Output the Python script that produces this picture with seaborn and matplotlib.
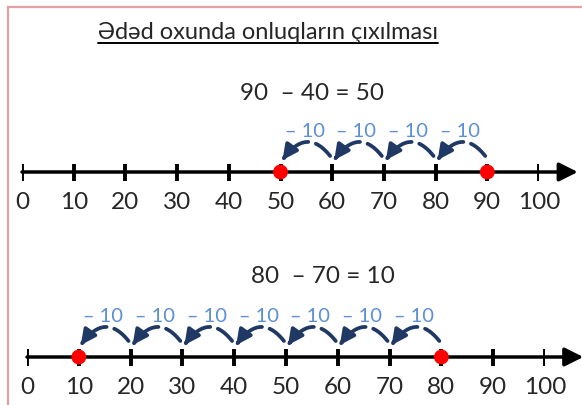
import matplotlib.pyplot as plt
import seaborn as sns
import pandas as pd
from matplotlib.patches import FancyArrowPatch, Rectangle
from matplotlib.lines import Line2D
from matplotlib.path import Path

# chart data
title = 'Ədəd oxunda onluqların çıxılması'
tick_values = [0, 10, 20, 30, 40, 50, 60, 70, 80, 90, 100]
hop_label = '– 10'

top_equation = '90  – 40 = 50'
top_points = [50, 90]
top_hops = [90, 80, 70, 60]          # each hop goes v -> v-10

bottom_equation = '80  – 70 = 10'
bottom_points = [10, 80]
bottom_hops = [80, 70, 60, 50, 40, 30, 20]

# colours
arc_color = '#1f3864'
label_color = '#5b8fd6'
dot_color = '#ff0000'
frame_color = '#e3a0a0'

sns.set_style('white')
plt.rcParams['font.family'] = ['Lato', 'DejaVu Sans']

W, H = 582, 406
fig = plt.figure(figsize=(W / 100, H / 100), dpi=100)


def bez(p0, c, p2, t):
    return ((1 - t) ** 2 * p0[0] + 2 * (1 - t) * t * c[0] + t ** 2 * p2[0],
            (1 - t) ** 2 * p0[1] + 2 * (1 - t) * t * c[1] + t ** 2 * p2[1])


def arc_piece(ax, v, t0, t1, head):
    p0 = (v - 0.4, 16)
    p2 = (v - 9.6, 12)
    c = (v - 5, 46)
    n = 20
    pts = [bez(p0, c, p2, t0 + (t1 - t0) * i / n) for i in range(n + 1)]
    path = Path(pts)
    style = '-|>' if head else '-'
    patch = FancyArrowPatch(path=path, arrowstyle=style, mutation_scale=22,
                            color=arc_color, lw=2.7, transform=ax.transData,
                            clip_on=False, zorder=3)
    ax.add_patch(patch)


def number_line(px0, px100, line_y, points, hops, tip):
    # axes placed so that 0 and 100 land on the given pixel columns
    left = px0 / W
    width = (px100 - px0) / W
    bottom = (H - line_y - 42) / H
    ax = fig.add_axes([left, bottom, width, 105 / H])
    ax.patch.set_alpha(0)

    ax.annotate('', xy=(tip, 0), xytext=(0, 0), annotation_clip=False,
                arrowprops=dict(arrowstyle='-|>', lw=2.5, color='black',
                                mutation_scale=28, shrinkA=0, shrinkB=0))
    ax.vlines(tick_values, -8.5, 8.5, color='black', lw=2.8, zorder=2)
    for v in tick_values:
        ax.text(v, -36, str(v), ha='center', va='baseline', fontsize=17.5)

    df = pd.DataFrame({'x': points, 'y': [0] * len(points)})
    sns.scatterplot(data=df, x='x', y='y', ax=ax, color=dot_color, s=115,
                    edgecolor='none', zorder=5, clip_on=False)
    ax.set_xlim(0, 100)
    ax.set_ylim(-42, 63)
    ax.axis('off')

    for v in hops:
        arc_piece(ax, v, 0.0, 0.30, False)
        arc_piece(ax, v, 0.46, 1.0, True)
        ax.text(v - 5.3, 36, hop_label, ha='center', va='baseline',
                fontsize=14.5, color=label_color)
    return ax


number_line(22, 539, 173, top_points, top_hops, 107.5)
number_line(27, 545, 358, bottom_points, bottom_hops, 107.4)

# equations
fig.text(312 / W, 1 - 100 / H, top_equation, ha='center', va='baseline', fontsize=17.5)
fig.text(323 / W, 1 - 283 / H, bottom_equation, ha='center', va='baseline', fontsize=17.5)

# title with underline
t = fig.text(268 / W, 1 - 39 / H, title, ha='center', va='baseline', fontsize=17)
renderer = fig.canvas.get_renderer()
bb = t.get_window_extent(renderer)
fig.add_artist(Line2D([bb.x0 / W, bb.x1 / W], [1 - 44 / H, 1 - 44 / H],
                      transform=fig.transFigure, color='black', lw=1.4))

# page frame
fig.add_artist(Rectangle((8 / W, -0.1), 1.2, (H - 8) / H + 0.1,
                         transform=fig.transFigure, fill=False,
                         ec=frame_color, lw=1.6))

fig.savefig('out.png', dpi=100)
